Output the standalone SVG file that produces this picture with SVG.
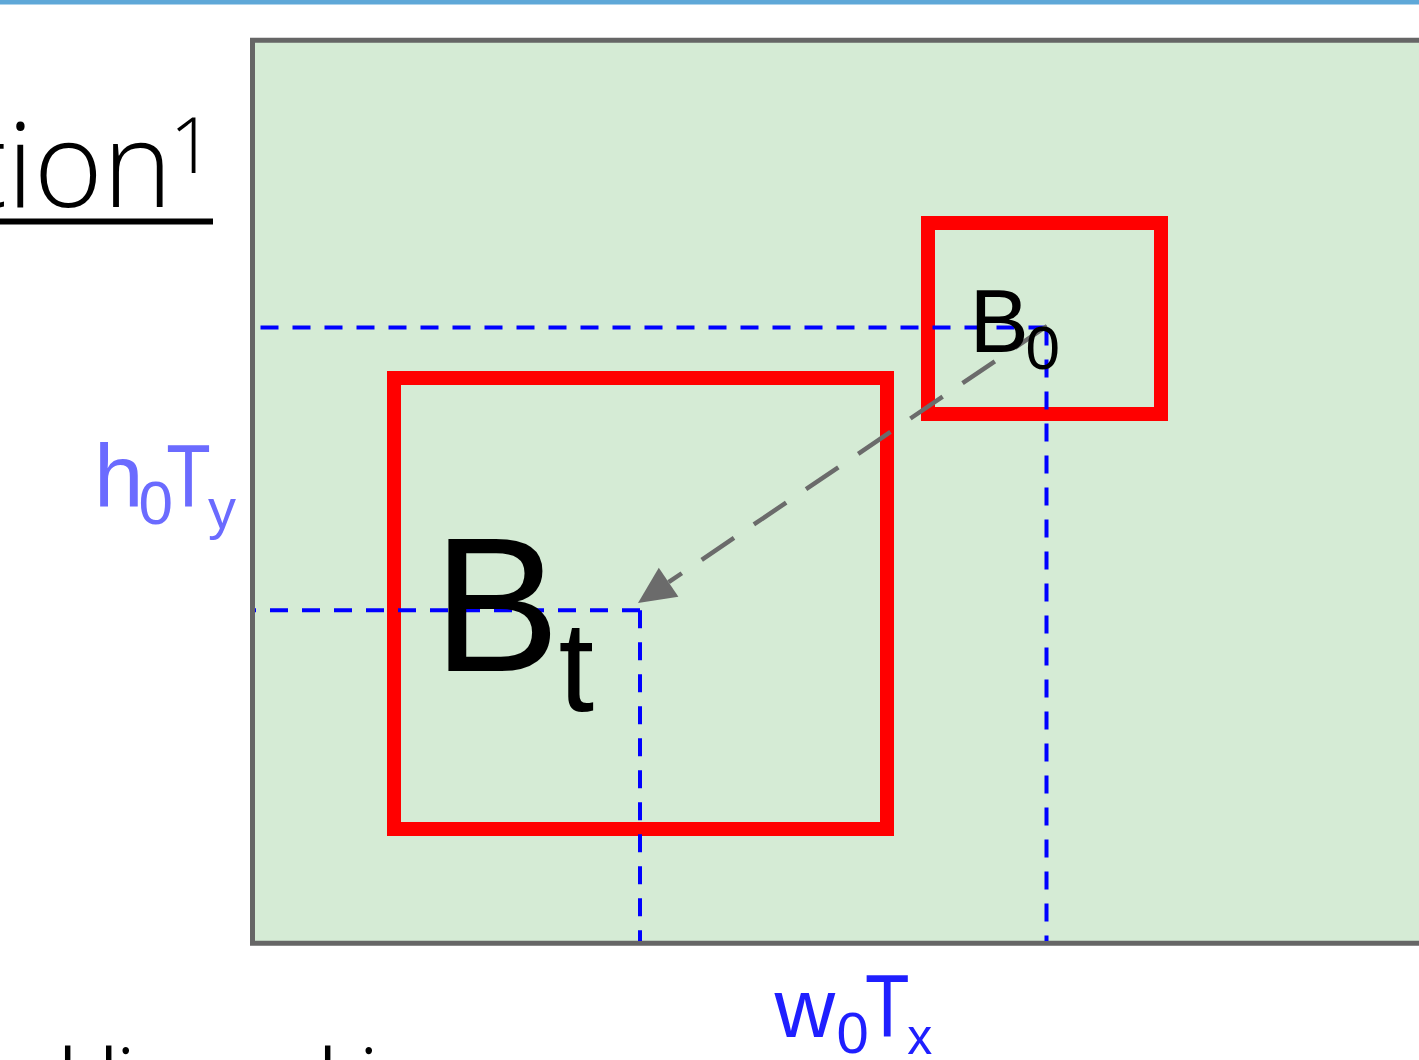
<svg xmlns="http://www.w3.org/2000/svg" width="1419" height="1060" viewBox="0 0 1419 1060">
<style>
.frame{fill:#d5ebd5;stroke:#666666;stroke-width:5}
.box{fill:none;stroke:#ff0000;stroke-width:14;stroke-linejoin:miter}
.guide{fill:none;stroke:#0000ff;stroke-width:4;stroke-dasharray:18 14}
.move{fill:none;stroke:#6b6b6b;stroke-width:4.5;stroke-dasharray:39 24}
.head{fill:#6b6b6b;stroke:none}
.lbl{font-family:"Liberation Sans",Arial,sans-serif}
.title{font-family:"Open Sans","Liberation Sans",sans-serif;font-weight:300;fill:#000}
.body{font-family:"Open Sans","Liberation Sans",sans-serif;fill:#000}
.hy{fill:#6b6bff}
.wx{fill:#1f1fff}
</style>
<rect x="0" y="0" width="1419" height="4.5" fill="#5fa8d8"/>
<g id="heading">
<text class="title" x="172.5" y="207" font-size="118" text-anchor="end">tion</text>
<text class="title" x="169.5" y="173" font-size="78">1</text>
<rect x="0" y="218.5" width="213" height="6" fill="#000"/>
</g>
<g id="body-text">
<text class="body" x="59.3" y="1097" font-size="67">bli</text>
<text class="body" x="319.3" y="1097" font-size="67">bi</text>
</g>
<g id="frame"><rect class="frame" x="252.5" y="40.25" width="1300" height="903"/></g>
<g id="box-b0"><rect class="box" x="928" y="223" width="233" height="191"/></g>
<g id="box-bt"><rect class="box" x="394" y="378" width="493" height="451"/></g>
<g id="connectors">
<line class="guide" x1="1046.5" y1="327.5" x2="258" y2="327.5"/>
<line class="guide" x1="1046.5" y1="327.5" x2="1046.5" y2="941"/>
<line class="guide" x1="640" y1="610.3" x2="255" y2="610.3"/>
<line class="guide" x1="640" y1="610.3" x2="640" y2="941"/>
<line class="move" x1="1047" y1="326" x2="668.6" y2="582.2"/>
<polygon class="head" points="638,603 658.8,567.7 678.4,596.7"/>
</g>
<g id="label-b0" class="lbl">
<text x="969.5" y="352" font-size="89">B</text>
<text x="1025.4" y="369" font-size="62">0</text>
</g>
<g id="label-bt" class="lbl">
<text x="432.7" y="671" font-size="191">B</text>
<text x="558.6" y="711" font-size="128">t</text>
</g>
<g id="label-hy" class="lbl hy">
<text x="94" y="507" font-size="89">h</text>
<text x="138.4" y="524" font-size="62">0</text>
<text x="166.3" y="507" font-size="89" textLength="44.5" lengthAdjust="spacingAndGlyphs">T</text>
<text x="208" y="528" font-size="56">y</text>
</g>
<g id="label-wx" class="lbl wx">
<text x="774.4" y="1037" font-size="84">w</text>
<text x="836.6" y="1053" font-size="58">0</text>
<text x="865" y="1037" font-size="89" textLength="44.5" lengthAdjust="spacingAndGlyphs">T</text>
<text x="907.3" y="1054" font-size="50">x</text>
</g>
</svg>
